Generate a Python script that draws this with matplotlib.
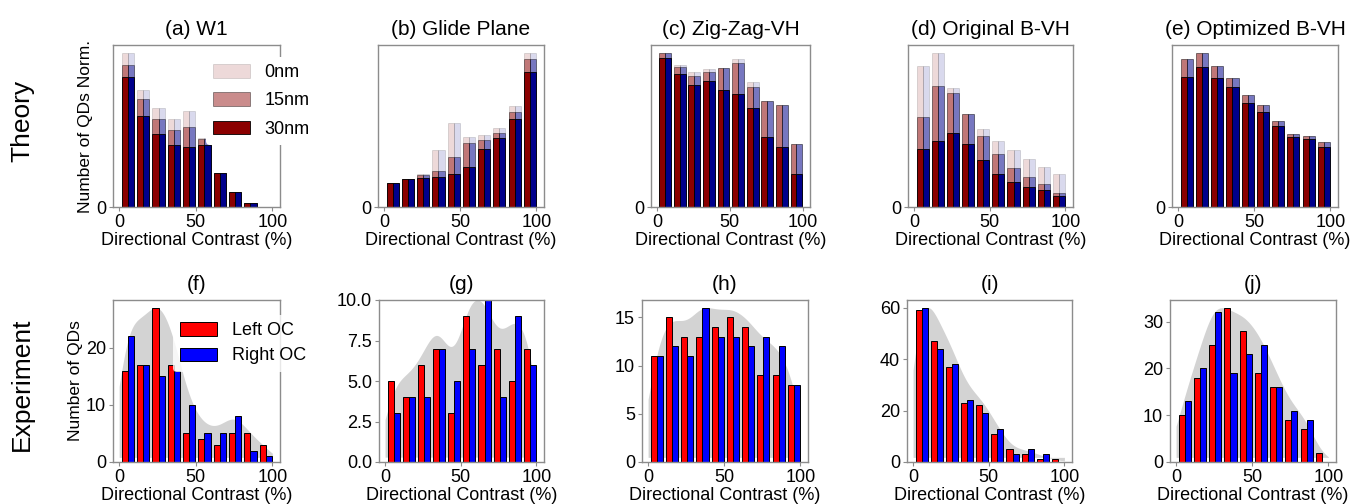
import numpy as np
import matplotlib.pyplot as plt

plt.rcParams['font.family'] = ['Liberation Sans', 'DejaVu Sans']

# ===== Data =====
bin_centers = np.arange(5, 100, 10)

theory_titles = ["(a) W1", "(b) Glide Plane", "(c) Zig-Zag-VH",
                 "(d) Original B-VH", "(e) Optimized B-VH"]
layer_labels = ["0nm", "15nm", "30nm"]

# normalised QD counts per layer thickness (0nm, 15nm, 30nm)
w1_0nm = [1.00, 0.76, 0.64, 0.57, 0.62, 0.45, 0.22, 0.10, 0.024, 0.0]
w1_15nm = [0.92, 0.70, 0.57, 0.50, 0.52, 0.44, 0.22, 0.10, 0.024, 0.0]
w1_30nm = [0.84, 0.59, 0.47, 0.40, 0.39, 0.40, 0.22, 0.10, 0.024, 0.0]

glide_0nm = [0.157, 0.180, 0.211, 0.370, 0.543, 0.452, 0.467, 0.515, 0.654, 1.00]
glide_15nm = [0.157, 0.180, 0.207, 0.235, 0.322, 0.415, 0.435, 0.480, 0.617, 0.959]
glide_30nm = [0.157, 0.180, 0.189, 0.196, 0.215, 0.259, 0.376, 0.448, 0.572, 0.874]

zigzag_0nm = [1.00, 0.922, 0.874, 0.896, 0.902, 0.957, 0.809, 0.689, 0.663, 0.407]
zigzag_15nm = [1.00, 0.909, 0.852, 0.874, 0.902, 0.933, 0.778, 0.689, 0.663, 0.407]
zigzag_30nm = [0.963, 0.865, 0.793, 0.815, 0.761, 0.735, 0.639, 0.454, 0.391, 0.211]

orig_0nm = [0.913, 1.00, 0.772, 0.602, 0.504, 0.430, 0.370, 0.309, 0.259, 0.211]
orig_15nm = [0.583, 0.787, 0.739, 0.602, 0.457, 0.341, 0.250, 0.196, 0.148, 0.093]
orig_30nm = [0.374, 0.430, 0.478, 0.411, 0.302, 0.215, 0.159, 0.130, 0.109, 0.072]

opt_0nm = [0.959, 1.00, 0.915, 0.839, 0.729, 0.662, 0.560, 0.471, 0.462, 0.423]
opt_15nm = [0.959, 1.00, 0.915, 0.839, 0.729, 0.662, 0.560, 0.471, 0.462, 0.423]
opt_30nm = [0.844, 0.905, 0.839, 0.777, 0.677, 0.616, 0.523, 0.456, 0.440, 0.390]

theory_data = [
    (w1_0nm, w1_15nm, w1_30nm),
    (glide_0nm, glide_15nm, glide_30nm),
    (zigzag_0nm, zigzag_15nm, zigzag_30nm),
    (orig_0nm, orig_15nm, orig_30nm),
    (opt_0nm, opt_15nm, opt_30nm),
]

exp_titles = ["(f)", "(g)", "(h)", "(i)", "(j)"]

# measured QD counts, left / right optical circulation
f_left = [16, 17, 27, 17, 5, 4, 3, 5, 5, 3]
f_right = [22, 17, 15, 16, 10, 5, 5, 8, 2, 1]
g_left = [5, 4, 6, 7, 3, 9, 6, 7, 5, 7]
g_right = [3, 4, 4, 7, 5, 7, 10, 4, 9, 6]
h_left = [11, 15, 13, 13, 14, 15, 14, 9, 9, 8]
h_right = [11, 12, 11, 16, 13, 13, 12, 13, 12, 8]
i_left = [59, 47, 37, 23, 22, 11, 5, 3, 1, 1]
i_right = [60, 44, 38, 24, 19, 13, 3, 5, 3, 0]
j_left = [10, 18, 25, 33, 28, 19, 16, 9, 7, 2]
j_right = [13, 20, 32, 19, 23, 25, 16, 11, 9, 0]

exp_data = [(f_left, f_right), (g_left, g_right), (h_left, h_right),
            (i_left, i_right), (j_left, j_right)]

# ===== Layout =====
W, H = 1366, 504
top_boxes = [(113, 280), (378, 544), (651, 810), (908, 1073), (1172, 1338)]
bot_boxes = [(113, 280), (379, 544), (642, 808), (907, 1072), (1170, 1336)]
top_y = (45, 207)
bot_y = (300, 462)

alphas = [0.15, 0.45, 1.0]
red_dark, blue_dark = "#8b0000", "#00008b"
spine_color = "#8c8c8c"
bw = 4.0
shift = 0.7


def make_axes(fig, box, ys):
    x0, x1 = box
    y0, y1 = ys
    return fig.add_axes([x0 / W, 1 - y1 / H, (x1 - x0) / W, (y1 - y0) / H])


def style_axes(ax):
    for s in ax.spines.values():
        s.set_color(spine_color)
        s.set_linewidth(1.0)
    ax.tick_params(labelsize=13, length=3, width=0.8, color=spine_color, pad=2)
    ax.set_xlim(-4, 105)
    ax.set_xticks([0, 50, 100])
    ax.set_xlabel("Directional Contrast (%)", fontsize=13, labelpad=1)


def smooth_envelope(left, right, xs, width=7.0):
    w = np.array(left) + np.array(right)
    k = np.exp(-0.5 * ((xs[:, None] - bin_centers[None, :]) / width) ** 2) @ w
    return k / k.max() * max(max(left), max(right))


fig = plt.figure(figsize=(W / 100, H / 100), dpi=100)

# ===== Theory row =====
for i, (title, layers) in enumerate(zip(theory_titles, theory_data)):
    ax = make_axes(fig, top_boxes[i], top_y)
    for vals, a, lab in zip(layers, alphas, layer_labels):
        ax.bar(bin_centers + shift, vals, width=-bw, align="edge",
               color=red_dark, alpha=a, edgecolor="black", linewidth=0.6,
               label=lab)
        ax.bar(bin_centers + shift, vals, width=bw, align="edge",
               color=blue_dark, alpha=a, edgecolor="black", linewidth=0.6)
    style_axes(ax)
    ax.set_ylim(0, 1.05)
    ax.set_yticks([0])
    ax.set_title(title, fontsize=15, pad=7)
    if i == 0:
        ax.set_ylabel("Number of QDs Norm.", fontsize=12.5, labelpad=2)
        ax.legend(loc="upper left", bbox_to_anchor=(0.557, 0.926),
                  borderaxespad=0, fontsize=13, frameon=True,
                  edgecolor="none", facecolor="white", framealpha=1,
                  handlelength=2.05, handleheight=0.75, handletextpad=0.8,
                  labelspacing=0.62)

# ===== Experiment row =====
xs = np.linspace(0, 100, 300)
for i, (title, (left, right)) in enumerate(zip(exp_titles, exp_data)):
    ax = make_axes(fig, bot_boxes[i], bot_y)
    env = smooth_envelope(left, right, xs)
    top = max(max(left), max(right))
    ax.fill_between(xs, 0.03 * top, env, color="#d3d3d3", linewidth=0,
                    zorder=0)
    ax.bar(bin_centers + shift, left, width=-bw, align="edge", color="red",
           edgecolor="black", linewidth=0.7, label="Left OC")
    ax.bar(bin_centers + shift, right, width=bw, align="edge", color="blue",
           edgecolor="black", linewidth=0.7, label="Right OC")
    style_axes(ax)
    if i == 1:
        ax.set_ylim(0, 10)
    else:
        ax.set_ylim(0, top * 1.05)
    ax.set_title(title, fontsize=15, pad=7)
    if i == 0:
        ax.set_ylabel("Number of QDs", fontsize=12.5, labelpad=2)
        ax.legend(loc="upper left", bbox_to_anchor=(0.36, 0.907),
                  borderaxespad=0, fontsize=13, frameon=True,
                  edgecolor="none", facecolor="white", framealpha=0.8,
                  handlelength=2.05, handleheight=0.75, handletextpad=0.8,
                  labelspacing=0.45)

# row labels
fig.text(22 / W, 1 - 121 / H, "Theory", rotation=90, fontsize=19,
         ha="center", va="center")
fig.text(22 / W, 1 - 384 / H, "Experiment", rotation=90, fontsize=19,
         ha="center", va="center")

fig.savefig("out.png", dpi=100)
